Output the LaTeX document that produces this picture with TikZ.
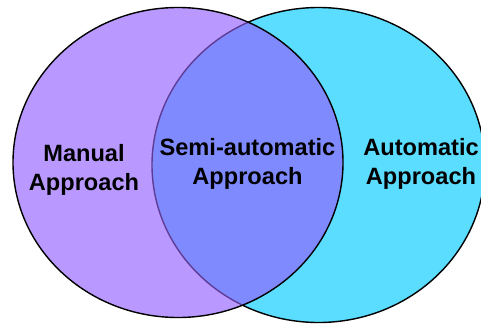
\documentclass[tikz,border=0pt]{standalone}
\usepackage{fontspec}
\setmainfont{Liberation Sans}
\usetikzlibrary{shapes.geometric}
\definecolor{manualfill}{RGB}{185,153,255}
\definecolor{autofill}{RGB}{91,221,255}
\definecolor{semifill}{RGB}{128,138,255}
\definecolor{innerline}{RGB}{95,60,150}
\tikzset{
  setshape/.style 2 args={ellipse, inner sep=0pt, outer sep=0pt, minimum width=#1, minimum height=#2},
  label/.style={align=center, font=\fontsize{23.6}{29}\selectfont\bfseries, inner sep=0pt, anchor=base},
}
\begin{document}
\begin{tikzpicture}[x=1pt,y=-1pt]
\useasboundingbox (0,0) rectangle (481,324);
% right set (automatic)
\node[setshape={333pt}{315pt}, fill=autofill, draw=black, line width=1.4pt] (auto) at (318.5,165) {};
% left set (manual)
\node[setshape={330pt}{310pt}, fill=manualfill] (manual) at (178,162.5) {};
% overlap
\begin{scope}
  \clip (178,162.5) ellipse [x radius=165, y radius=155];
  \fill[semifill] (318.5,165) ellipse [x radius=166.5, y radius=157.5];
  \draw[innerline, line width=1.4pt] (318.5,165) ellipse [x radius=166.5, y radius=157.5];
\end{scope}
\node[setshape={330pt}{310pt}, draw=black, line width=1.4pt] (manualout) at (178,162.5) {};
% labels
\node[label] (lman) at (84,190) {Manual\\Approach};
\node[label] (lsemi) at (247.5,184.5) {Semi-automatic\\Approach};
\node[label] (lauto) at (421,184) {Automatic\\Approach};
\end{tikzpicture}
\end{document}
